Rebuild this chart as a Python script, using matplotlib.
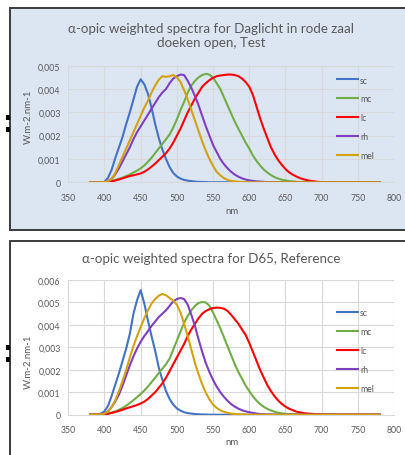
import matplotlib
matplotlib.use("Agg")
import matplotlib.pyplot as plt
from matplotlib.patches import Rectangle
from matplotlib.ticker import FuncFormatter, MultipleLocator

# ---------------- data (values in 0.001 W.m-2.nm-1) ----------------
wavelengths = list(range(380, 705, 5)) + [725, 750, 780]
series_names = ["sc", "mc", "lc", "rh", "mel"]
series_colors = ["#4472C4", "#70AD47", "#FF0000", "#7F3FBF", "#D4A20F"]

top_sc = [0, 0, 0, 0, 0.02, 0.2, 0.55, 1.05,
          1.5, 1.95, 2.5, 3.0, 3.55, 4.1, 4.42, 4.2,
          3.8, 3.2, 2.5, 1.9, 1.4, 1.0, 0.65, 0.4,
          0.25, 0.16, 0.1, 0.07, 0.05, 0.03, 0.02, 0.01,
          0.01, 0, 0, 0, 0, 0, 0, 0,
          0, 0, 0, 0, 0, 0, 0, 0,
          0, 0, 0, 0, 0, 0, 0, 0,
          0, 0, 0, 0, 0, 0, 0, 0,
          0, 0, 0, 0]
top_mc = [0, 0, 0, 0, 0, 0.02, 0.05, 0.1,
          0.15, 0.2, 0.27, 0.33, 0.42, 0.5, 0.6, 0.72,
          0.88, 1.05, 1.25, 1.45, 1.65, 1.85, 2.05, 2.35,
          2.7, 3.1, 3.45, 3.85, 4.15, 4.35, 4.5, 4.6,
          4.65, 4.62, 4.48, 4.25, 4.0, 3.65, 3.3, 2.95,
          2.6, 2.3, 2.0, 1.7, 1.45, 1.15, 0.92, 0.72,
          0.55, 0.42, 0.31, 0.22, 0.16, 0.11, 0.08, 0.05,
          0.04, 0.02, 0.01, 0.01, 0, 0, 0, 0,
          0, 0, 0, 0]
top_lc = [0, 0, 0, 0, 0, 0.01, 0.04, 0.08,
          0.12, 0.17, 0.22, 0.27, 0.3, 0.34, 0.38, 0.45,
          0.55, 0.67, 0.8, 0.95, 1.1, 1.25, 1.45, 1.7,
          2.0, 2.3, 2.65, 3.0, 3.3, 3.6, 3.85, 4.1,
          4.25, 4.38, 4.48, 4.55, 4.58, 4.6, 4.62, 4.62,
          4.6, 4.55, 4.45, 4.3, 4.1, 3.75, 3.25, 2.75,
          2.3, 1.9, 1.5, 1.2, 0.95, 0.75, 0.57, 0.43,
          0.33, 0.25, 0.18, 0.13, 0.09, 0.06, 0.04, 0.02,
          0.01, 0, 0, 0]
top_rh = [0, 0, 0, 0, 0.01, 0.05, 0.15, 0.35,
          0.6, 0.9, 1.2, 1.5, 1.85, 2.15, 2.4, 2.65,
          2.9, 3.15, 3.4, 3.65, 3.85, 4.0, 4.25, 4.45,
          4.55, 4.62, 4.6, 4.35, 4.05, 3.7, 3.3, 2.85,
          2.4, 2.0, 1.6, 1.3, 1.0, 0.78, 0.6, 0.45,
          0.33, 0.24, 0.17, 0.12, 0.08, 0.06, 0.04, 0.03,
          0.02, 0.01, 0.01, 0, 0, 0, 0, 0,
          0, 0, 0, 0, 0, 0, 0, 0,
          0, 0, 0, 0]
top_mel = [0, 0, 0, 0, 0.01, 0.05, 0.15, 0.4,
           0.75, 1.1, 1.45, 1.8, 2.15, 2.5, 2.85, 3.2,
           3.5, 3.85, 4.15, 4.4, 4.55, 4.52, 4.55, 4.6,
           4.5, 4.3, 3.95, 3.55, 3.1, 2.65, 2.2, 1.75,
           1.35, 1.0, 0.7, 0.45, 0.3, 0.18, 0.1, 0.06,
           0.04, 0.02, 0.015, 0.01, 0.005, 0, 0, 0,
           0, 0, 0, 0, 0, 0, 0, 0,
           0, 0, 0, 0, 0, 0, 0, 0,
           0, 0, 0, 0]

bot_sc = [0, 0, 0.01, 0.05, 0.15, 0.4, 0.85, 1.35,
          1.85, 2.4, 2.95, 3.6, 4.5, 5.1, 5.55, 4.95,
          4.2, 3.5, 2.85, 2.1, 1.55, 1.05, 0.7, 0.45,
          0.28, 0.18, 0.11, 0.07, 0.05, 0.03, 0.02, 0.01,
          0.01, 0, 0, 0, 0, 0, 0, 0,
          0, 0, 0, 0, 0, 0, 0, 0,
          0, 0, 0, 0, 0, 0, 0, 0,
          0, 0, 0, 0, 0, 0, 0, 0,
          0, 0, 0, 0]
bot_mc = [0, 0, 0, 0, 0.02, 0.05, 0.1, 0.15,
          0.22, 0.3, 0.4, 0.52, 0.65, 0.78, 0.92, 1.08,
          1.25, 1.45, 1.65, 1.85, 2.05, 2.25, 2.5, 2.9,
          3.3, 3.7, 4.1, 4.4, 4.65, 4.85, 4.98, 5.02,
          5.0, 4.85, 4.55, 4.2, 3.85, 3.45, 3.05, 2.65,
          2.25, 1.9, 1.6, 1.3, 1.05, 0.82, 0.63, 0.47,
          0.35, 0.26, 0.19, 0.13, 0.09, 0.06, 0.04, 0.03,
          0.02, 0.01, 0.01, 0, 0, 0, 0, 0,
          0, 0, 0, 0]
bot_lc = [0, 0, 0, 0, 0.01, 0.04, 0.08, 0.12,
          0.17, 0.22, 0.28, 0.33, 0.38, 0.43, 0.5, 0.58,
          0.7, 0.85, 1.0, 1.2, 1.4, 1.65, 1.95, 2.25,
          2.55, 2.85, 3.15, 3.5, 3.8, 4.05, 4.3, 4.5,
          4.62, 4.7, 4.75, 4.77, 4.76, 4.72, 4.62, 4.45,
          4.25, 4.05, 3.8, 3.55, 3.2, 2.8, 2.4, 2.0,
          1.65, 1.32, 1.05, 0.82, 0.63, 0.48, 0.36, 0.27,
          0.2, 0.14, 0.1, 0.07, 0.05, 0.04, 0.03, 0.02,
          0.01, 0, 0, 0]
bot_rh = [0, 0, 0, 0.01, 0.05, 0.15, 0.35, 0.6,
          0.9, 1.3, 1.75, 2.2, 2.6, 2.95, 3.25, 3.5,
          3.72, 3.95, 4.15, 4.35, 4.5, 4.65, 4.85, 5.05,
          5.15, 5.2, 5.15, 4.9, 4.45, 3.95, 3.35, 2.8,
          2.3, 1.9, 1.55, 1.25, 1.0, 0.8, 0.62, 0.47,
          0.36, 0.27, 0.2, 0.15, 0.11, 0.08, 0.05, 0.03,
          0.02, 0.01, 0.01, 0, 0, 0, 0, 0,
          0, 0, 0, 0, 0, 0, 0, 0,
          0, 0, 0, 0]
bot_mel = [0, 0, 0.01, 0.02, 0.05, 0.15, 0.35, 0.65,
           1.05, 1.5, 2.0, 2.55, 3.05, 3.5, 3.9, 4.3,
           4.65, 4.95, 5.15, 5.3, 5.38, 5.32, 5.2, 5.08,
           4.9, 4.55, 4.05, 3.5, 2.9, 2.3, 1.8, 1.35,
           0.98, 0.68, 0.45, 0.3, 0.2, 0.13, 0.08, 0.05,
           0.03, 0.02, 0.01, 0.01, 0, 0, 0, 0,
           0, 0, 0, 0, 0, 0, 0, 0,
           0, 0, 0, 0, 0, 0, 0, 0,
           0, 0, 0, 0]

x_ticks = [350, 400, 450, 500, 550, 600, 650, 700, 750, 800]
top_title = "α-opic weighted spectra for Daglicht in rode zaal\ndoeken open, Test"
bot_title = "α-opic weighted spectra for D65, Reference"
y_label = "W.m-2.nm-1"
x_label = "nm"

# ---------------- layout ----------------
W, H = 406, 456
plt.rcParams["font.family"] = ["Lato", "DejaVu Sans"]
fig = plt.figure(figsize=(W / 100, H / 100), dpi=100)
fig.patch.set_facecolor("white")

def fx(px):
    return px / W

def fy(py):
    return 1 - py / H

TXT = "#595959"
GRID = "#D9D9D9"
FS = 6.3

# panels (chart areas)
fig.add_artist(Rectangle((fx(10), fy(230.5)), fx(420) - fx(10), fy(9) - fy(230.5),
                         transform=fig.transFigure, facecolor="#DCE6F2",
                         edgecolor="#3C3C3C", lw=1.4, zorder=0))
fig.add_artist(Rectangle((fx(10), fy(480)), fx(420) - fx(10), fy(242) - fy(480),
                         transform=fig.transFigure, facecolor="white",
                         edgecolor="#3C3C3C", lw=1.4, zorder=0))
# selection handles on the left
for y0, y1 in [(116, 121), (128, 133), (346, 351), (358, 363)]:
    fig.add_artist(Rectangle((fx(5.5), fy(y1)), fx(4.5), fy(y0) - fy(y1),
                             transform=fig.transFigure, facecolor="black",
                             edgecolor="none", zorder=1))

panels = [
    dict(series=[top_sc, top_mc, top_lc, top_rh, top_mel], ymax=0.005,
         box=(68.3, 66.7, 394, 183.3), title=top_title, title_y=36,
         ylab_y=117, xlab_y=212, leg_y=81),
    dict(series=[bot_sc, bot_mc, bot_lc, bot_rh, bot_mel], ymax=0.006,
         box=(68.3, 281, 394, 415.7), title=bot_title, title_y=259,
         ylab_y=362, xlab_y=443, leg_y=314),
]

fmt = FuncFormatter(lambda v, p: "0" if abs(v) < 1e-12 else f"{v:.3f}".replace(".", ","))

titles = []
for pnl in panels:
    x0, y0, x1, y1 = pnl["box"]
    ax = fig.add_axes([fx(x0), fy(y1), fx(x1) - fx(x0), fy(y0) - fy(y1)])
    ax.set_facecolor("none")
    for name, vals, col in zip(series_names, pnl["series"], series_colors):
        ax.plot(wavelengths, [v * 0.001 for v in vals], color=col, lw=1.5,
                label=name, solid_joinstyle="round", zorder=3)
    ax.set_xlim(350, 800)
    ax.set_ylim(0, pnl["ymax"])
    ax.set_xticks(x_ticks)
    ax.yaxis.set_major_locator(MultipleLocator(0.001))
    ax.yaxis.set_major_formatter(fmt)
    ax.grid(True, color=GRID, lw=0.8, zorder=0)
    ax.set_axisbelow(True)
    for s in ["top", "right", "left"]:
        ax.spines[s].set_visible(False)
    ax.spines["bottom"].set_color(GRID)
    ax.spines["bottom"].set_linewidth(0.8)
    ax.tick_params(length=0, labelsize=FS, colors=TXT, pad=5.5)
    ax.tick_params(axis="x", pad=7.5)
    # axis titles
    fig.text(fx(28), fy(pnl["ylab_y"]), y_label, rotation=90, ha="center",
             va="center", color=TXT, fontsize=7.0)
    fig.text(fx(232), fy(pnl["xlab_y"]), x_label, ha="center", va="center",
             color=TXT, fontsize=7.0)
    t = fig.text(fx(211.5), fy(pnl["title_y"]), pnl["title"], ha="center",
                 va="center", color=TXT, fontsize=10, linespacing=1.25)
    titles.append(t)
    # legend
    leg = ax.legend(loc="upper left", bbox_to_anchor=(fx(337), fy(pnl["leg_y"] - 4.5)),
                    bbox_transform=fig.transFigure, frameon=False, fontsize=FS,
                    handlelength=2.4, handletextpad=0.25, labelspacing=1.12,
                    borderpad=0, borderaxespad=0)
    for txt in leg.get_texts():
        txt.set_color(TXT)

# fit title size to the reference width
fig.canvas.draw()
r = fig.canvas.get_renderer()
bot_w = titles[1].get_window_extent(r).width
scale = 259.0 / bot_w
for t in titles:
    t.set_fontsize(t.get_fontsize() * scale)

fig.savefig("out.png", dpi=100, facecolor="white")
